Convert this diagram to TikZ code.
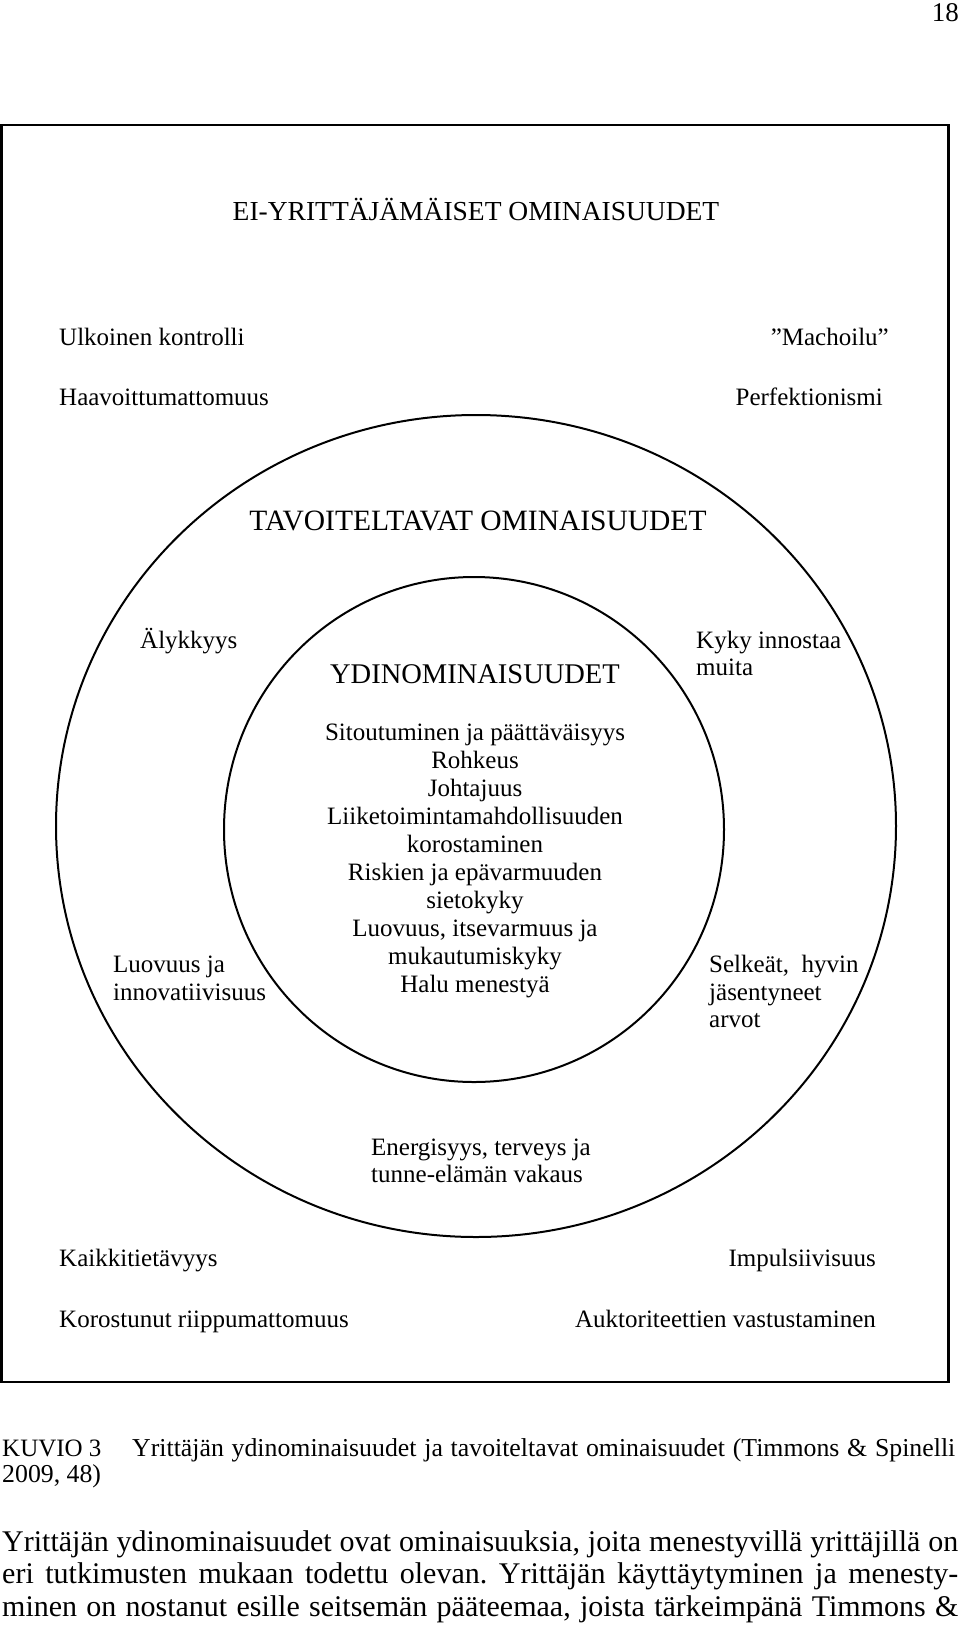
\documentclass[tikz,border=0pt]{standalone}
\usepackage{fontspec}
\setmainfont{Liberation Serif}
\frenchspacing
\tikzset{
  lab/.style={inner sep=0pt, font=\fontsize{25}{28}\selectfont},
  head/.style={inner sep=0pt, font=\fontsize{27.5}{30}\selectfont},
  capt/.style={inner sep=0pt, font=\fontsize{25.8}{28}\selectfont},
  bodytxt/.style={inner sep=0pt, font=\fontsize{30}{32}\selectfont},
  ring/.style={line width=2pt},
  framebox/.style={line width=2.4pt},
}
\begin{document}
\begin{tikzpicture}[x=1pt,y=-1pt]
\useasboundingbox (0,0) rectangle (960,1626);
% page number
\node[lab, font=\fontsize{27}{30}\selectfont, anchor=base east] (pg) at (959,21) {18};
% frame
\draw[framebox] (1.5,125) rectangle (948.5,1382);
% ellipses
\draw[ring] (476,826) ellipse [x radius=420pt, y radius=411pt];
\draw[ring] (474,829.5) ellipse [x radius=250pt, y radius=252.5pt];
% headings
\node[head, anchor=base] (ei) at (476,220) {EI-YRITTÄJÄMÄISET OMINAISUUDET};
\node[head, font=\fontsize{29.5}{32}\selectfont, anchor=base] (tav) at (478,530) {TAVOITELTAVAT OMINAISUUDET};
\node[head, font=\fontsize{28.5}{31}\selectfont, anchor=base] (ydin) at (475,683) {YDINOMINAISUUDET};
% outer corner labels
\node[lab, anchor=base west] (ulk) at (59,345) {Ulkoinen kontrolli};
\node[lab, anchor=base west] (haa) at (59,405) {Haavoittumattomuus};
\node[lab, anchor=base east] (mach) at (889,345) {”Machoilu”};
\node[lab, anchor=base east] (perf) at (883,405) {Perfektionismi};
\node[lab, anchor=base west] (kaik) at (59,1266) {Kaikkitietävyys};
\node[lab, anchor=base west] (kor) at (59,1327) {Korostunut riippumattomuus};
\node[lab, anchor=base east] (imp) at (876,1266) {Impulsiivisuus};
\node[lab, anchor=base east] (auk) at (876,1327) {Auktoriteettien vastustaminen};
% ring labels
\node[lab, anchor=base west] (aly) at (140,648) {Älykkyys};
\node[lab, anchor=base west] (kyky1) at (696,648) {Kyky innostaa};
\node[lab, anchor=base west] (kyky2) at (696,675) {muita};
\node[lab, anchor=base west] (luo1) at (113,972) {Luovuus ja};
\node[lab, anchor=base west] (luo2) at (113,1000) {innovatiivisuus};
\node[lab, anchor=base west] (sel1) at (709,972) {Selkeät,\ \ hyvin};
\node[lab, anchor=base west] (sel2) at (709,1000) {jäsentyneet};
\node[lab, anchor=base west] (sel3) at (709,1027) {arvot};
\node[lab, anchor=base west] (ene1) at (371,1155) {Energisyys, terveys ja};
\node[lab, anchor=base west] (ene2) at (371,1182) {tunne-elämän vakaus};
% core list
\node[lab, anchor=base] (c1) at (475,740) {Sitoutuminen ja päättäväisyys};
\node[lab, anchor=base] (c2) at (475,768) {Rohkeus};
\node[lab, anchor=base] (c3) at (475,796) {Johtajuus};
\node[lab, anchor=base] (c4) at (475,824) {Liiketoimintamahdollisuuden};
\node[lab, anchor=base] (c5) at (475,852) {korostaminen};
\node[lab, anchor=base] (c6) at (475,880) {Riskien ja epävarmuuden};
\node[lab, anchor=base] (c7) at (475,908) {sietokyky};
\node[lab, anchor=base] (c8) at (475,936) {Luovuus, itsevarmuus ja};
\node[lab, anchor=base] (c9) at (475,964) {mukautumiskyky};
\node[lab, anchor=base] (c10) at (475,992) {Halu menestyä};
% caption
\node[capt, font=\fontsize{25}{28}\selectfont, anchor=base west] (kuv) at (2,1456) {KUVIO 3};
\node[capt, anchor=base west] (ctext) at (132,1456) {\makebox[823pt][s]{Yrittäjän ydinominaisuudet ja tavoiteltavat ominaisuudet (Timmons \& Spinelli}};
\node[capt, anchor=base west] (cyear) at (2,1482) {2009, 48)};
% body text
\node[bodytxt, anchor=base west] (b1) at (2,1551) {\makebox[956pt][s]{Yrittäjän ydinominaisuudet ovat ominaisuuksia, joita menestyvillä yrittäjillä on}};
\node[bodytxt, anchor=base west] (b2) at (2,1583) {\makebox[956pt][s]{eri tutkimusten mukaan todettu olevan. Yrittäjän käyttäytyminen ja menesty-}};
\node[bodytxt, anchor=base west] (b3) at (2,1616) {\makebox[956pt][s]{minen on nostanut esille seitsemän pääteemaa, joista tärkeimpänä Timmons \&}};
\end{tikzpicture}
\end{document}
